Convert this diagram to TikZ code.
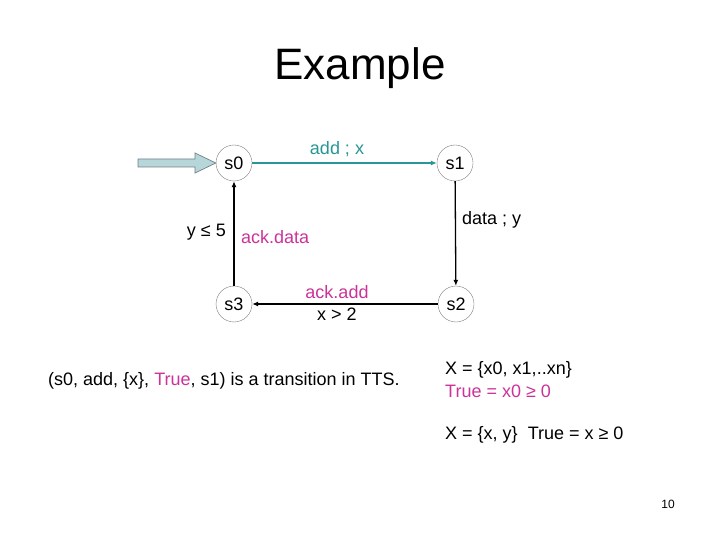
\documentclass[tikz,border=0pt]{standalone}
\usepackage{fontspec}
\setmainfont{Liberation Sans}
\usetikzlibrary{arrows.meta}
\definecolor{tealc}{RGB}{40,150,150}
\definecolor{magc}{RGB}{204,51,153}
\definecolor{initfill}{RGB}{182,214,218}
\definecolor{initline}{RGB}{110,130,135}
\begin{document}
\begin{tikzpicture}[x=1pt,y=-1pt,
  state/.style={circle,draw=black!55,line width=0.35pt,minimum size=36pt,inner sep=0pt,font=\fontsize{18}{21}\selectfont},
  lbl/.style={inner sep=0pt,font=\fontsize{18}{21}\selectfont},
  edge/.style={line width=1.3pt,-{Latex[length=6pt,width=5pt]}}]
\useasboundingbox[fill=white] (0,0) rectangle (720,540);
\node[font=\fontsize{44}{50}\selectfont] (title) at (360,68) {Example};
% states
\node[state] (s0) at (234,163) {s0};
\node[state] (s1) at (455,163) {s1};
\node[state] (s2) at (456,304) {s2};
\node[state] (s3) at (234,304) {s3};
% initial arrow
\filldraw[fill=initfill,draw=initline,line width=0.7pt]
  (138,159) -- (195,159) -- (195,153) -- (s0.west) -- (195,173) -- (195,167) -- (138,167) -- cycle;
% transitions
\draw[edge,draw=tealc,color=tealc] (s0) -- (s1);
\draw[edge] (s1) -- (s2);
\draw[edge] (s2) -- (s3);
\draw[edge] (s3) -- (s0);
% labels
\node[lbl,text=tealc] (l1) at (337,149) {add ; x};
\node[lbl,anchor=west] (l2) at (462,220) {data ; y};
\node[lbl,anchor=east] (l3) at (226,232) {y ≤ 5};
\node[lbl,anchor=west,text=magc] (l4) at (241,237) {ack.data};
\node[lbl,text=magc] (l5) at (337,292) {ack.add};
\node[lbl] (l6) at (337,314) {x > 2};
% bottom text
\node[lbl,anchor=west] (t1) at (48,381) {(s0, add, \{x\}, \textcolor{magc}{True}, s1) is a transition in TTS.};
\node[lbl,anchor=west] (t2) at (445,370) {X = \{x0, x1,..xn\}};
\node[lbl,anchor=west,text=magc] (t3) at (445,391) {True = x0 ≥ 0};
\node[lbl,anchor=west] (t4) at (445,435) {X = \{x, y\}\ \ True = x ≥ 0};
\node[font=\fontsize{12}{14}\selectfont] (pg) at (668,504) {10};
\end{tikzpicture}
\end{document}
